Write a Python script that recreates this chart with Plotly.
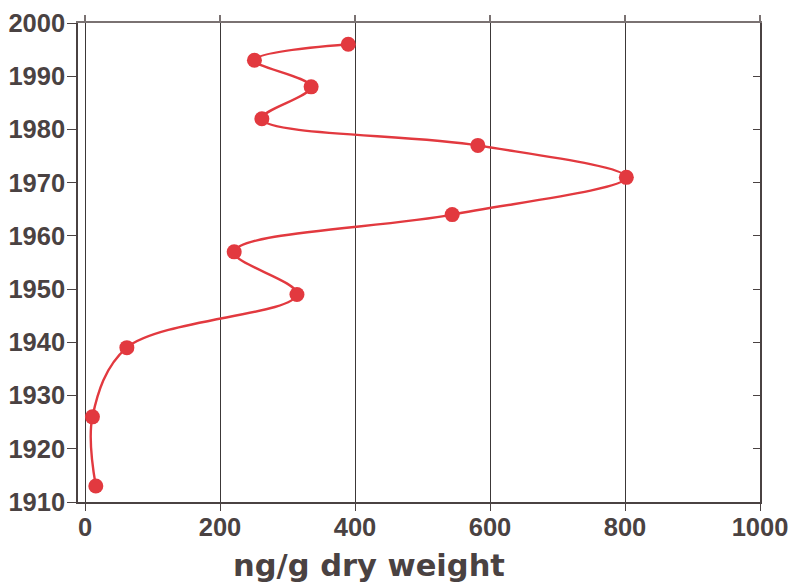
import plotly.graph_objects as go

concentration = [390, 251, 335, 262, 582, 802, 544, 221, 314, 62, 11, 16]
year = [1996, 1993, 1988, 1982, 1977, 1971, 1964, 1957, 1949, 1939, 1926, 1913]
x_ticks = [0, 200, 400, 600, 800, 1000]
y_ticks = [1910, 1920, 1930, 1940, 1950, 1960, 1970, 1980, 1990, 2000]
x_title = "ng/g dry weight"

red = "#e2393f"
txt = "#4a4242"
font = dict(family="Liberation Sans, Arial", size=25.5, color=txt, weight="bold")

fig = go.Figure()
fig.add_trace(go.Scatter(
    x=concentration, y=year, mode="lines+markers",
    line=dict(color=red, width=2.4, shape="spline", smoothing=1),
    marker=dict(color=red, size=15),
    showlegend=False, cliponaxis=False,
))
# dummy trace for secondary axes
fig.add_trace(go.Scatter(x=[None], y=[None], xaxis="x2", yaxis="y2", showlegend=False))

xr = [-10.4, 1000]
yr = [1910, 2000]

fig.update_layout(
    width=797, height=586,
    margin=dict(l=78, r=37, t=23, b=84, autoexpand=False),
    paper_bgcolor="white", plot_bgcolor="white",
    xaxis=dict(range=xr, tickvals=x_ticks, ticks="outside", ticklen=7, tickwidth=1.2,
               tickcolor=txt, showline=True, linecolor=txt, linewidth=1.5,
               showgrid=True, gridcolor="#3c3838", gridwidth=1, zeroline=False,
               tickfont=font, automargin=False, ticklabelstandoff=-5),
    yaxis=dict(range=yr, tickvals=y_ticks, ticks="outside", ticklen=9, tickwidth=1.2,
               tickcolor=txt, showline=True, linecolor=txt, linewidth=1.5,
               showgrid=False, zeroline=False, tickfont=font, automargin=False,
               ticklabelstandoff=-3),
    xaxis2=dict(range=xr, tickvals=x_ticks, overlaying="x", side="top", ticks="outside",
                ticklen=6, tickwidth=1.5, tickcolor="#7a7272", showline=True,
                linecolor="#7a7272", linewidth=1.5, showticklabels=False,
                showgrid=False, zeroline=False, automargin=False),
    yaxis2=dict(range=yr, tickvals=y_ticks, overlaying="y", side="right", ticks="inside",
                ticklen=7, tickwidth=1.2, tickcolor=txt, showline=True, linecolor=txt,
                linewidth=1.5, showticklabels=False, showgrid=False, zeroline=False,
                automargin=False),
    annotations=[dict(text=x_title, xref="paper", yref="paper", x=(369 - 78) / 682,
                      y=-(565 - 502) / 479, xanchor="center", yanchor="middle",
                      showarrow=False,
                      font=dict(family="DejaVu Sans", size=30.5, color=txt,
                                weight="bold"))],
)

fig.write_html("out.html")
